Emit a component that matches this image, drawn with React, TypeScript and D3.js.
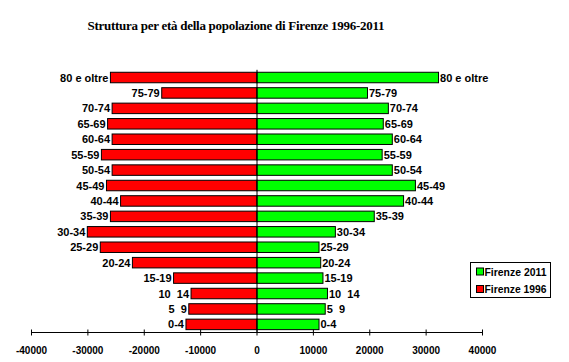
import { useEffect, useRef } from 'react';
import * as d3 from 'd3';

const ageGroups = ['80 e oltre', '75-79', '70-74', '65-69', '60-64', '55-59', '50-54', '45-49', '40-44', '35-39', '30-34', '25-29', '20-24', '15-19', '10  14', '5  9', '0-4'];
const pop1996 = [26000, 16900, 25700, 26500, 25700, 27600, 25700, 26700, 24200, 26000, 30100, 27800, 22100, 14800, 11700, 12100, 12600];
const pop2011 = [32200, 19600, 23300, 22400, 24000, 22200, 24000, 28100, 26000, 20800, 13900, 11000, 11300, 11700, 12500, 12100, 11000];
const xTicks = [-40000, -30000, -20000, -10000, 0, 10000, 20000, 30000, 40000];
const legendItems = [
  { label: 'Firenze 2011', color: '#00ff00' },
  { label: 'Firenze 1996', color: '#ff0000' },
];

export default function App() {
  const ref = useRef<SVGSVGElement>(null);

  useEffect(() => {
    if (!ref.current) return;
    const svg = d3.select(ref.current);
    svg.selectAll('*').remove();

    const font = '"Liberation Sans", Arial, sans-serif';

    const x = d3.scaleLinear().domain([-40000, 40000]).range([31.5, 482.5]);
    const y = d3.scaleBand<string>()
      .domain(ageGroups)
      .range([69.8, 332.1])
      .paddingInner(0.32)
      .paddingOuter(0.16);

    // Title
    svg.append('text')
      .attr('x', 236)
      .attr('y', 30)
      .attr('text-anchor', 'middle')
      .attr('font-family', '"Liberation Serif", "Times New Roman", serif')
      .attr('font-weight', 'bold')
      .attr('font-size', 13)
      .attr('textLength', 297)
      .text('Struttura per età della popolazione di Firenze 1996-2011');

    const g = svg.append('g');

    // 1996 bars (left, red)
    g.selectAll('rect.m')
      .data(ageGroups)
      .join('rect')
      .attr('class', 'm')
      .attr('x', (_, i) => x(-pop1996[i]))
      .attr('y', d => y(d)!)
      .attr('width', (_, i) => x(0) - x(-pop1996[i]))
      .attr('height', y.bandwidth())
      .attr('fill', '#ff0000')
      .attr('stroke', '#000')
      .attr('stroke-width', 1);

    // 2011 bars (right, green)
    g.selectAll('rect.f')
      .data(ageGroups)
      .join('rect')
      .attr('class', 'f')
      .attr('x', x(0))
      .attr('y', d => y(d)!)
      .attr('width', (_, i) => x(pop2011[i]) - x(0))
      .attr('height', y.bandwidth())
      .attr('fill', '#00ff00')
      .attr('stroke', '#000')
      .attr('stroke-width', 1);

    // labels
    const labelStyle = (sel: any) => sel
      .attr('font-family', font)
      .attr('font-weight', 'bold')
      .attr('font-size', 11)
      .attr('dominant-baseline', 'central')
      .style('white-space', 'pre');

    g.selectAll('text.ll')
      .data(ageGroups)
      .join('text')
      .attr('class', 'll')
      .attr('x', (_, i) => x(-pop1996[i]) - 2)
      .attr('y', d => y(d)! + y.bandwidth() / 2)
      .attr('text-anchor', 'end')
      .call(labelStyle)
      .text(d => d);

    g.selectAll('text.rl')
      .data(ageGroups)
      .join('text')
      .attr('class', 'rl')
      .attr('x', (_, i) => x(pop2011[i]) + 1.5)
      .attr('y', d => y(d)! + y.bandwidth() / 2)
      .call(labelStyle)
      .text(d => d);

    // zero line
    g.append('line')
      .attr('x1', x(0)).attr('x2', x(0))
      .attr('y1', y.range()[0]).attr('y2', y.range()[1])
      .attr('stroke', '#000');

    // x axis
    const axisY = 332.5;
    g.append('line')
      .attr('x1', x(-40000)).attr('x2', x(40000))
      .attr('y1', axisY).attr('y2', axisY)
      .attr('stroke', '#000');
    g.selectAll('line.tick')
      .data(xTicks)
      .join('line')
      .attr('class', 'tick')
      .attr('x1', d => x(d)).attr('x2', d => x(d))
      .attr('y1', axisY - 3).attr('y2', axisY + 3)
      .attr('stroke', '#000');
    g.selectAll('text.tl')
      .data(xTicks)
      .join('text')
      .attr('class', 'tl')
      .attr('x', d => x(d))
      .attr('y', 354)
      .attr('text-anchor', 'middle')
      .attr('font-family', font)
      .attr('font-weight', 'bold')
      .attr('font-size', 10)
      .text(d => String(d));

    // legend
    const lg = svg.append('g').attr('transform', 'translate(470.5,262.5)');
    lg.append('rect')
      .attr('width', 80).attr('height', 35)
      .attr('fill', '#fff').attr('stroke', '#000');
    lg.selectAll('g.item')
      .data(legendItems)
      .join('g')
      .attr('class', 'item')
      .attr('transform', (_, i) => `translate(6,${9 + i * 17.5})`)
      .each(function (d) {
        const it = d3.select(this);
        it.append('rect')
          .attr('x', 0).attr('y', -3.5)
          .attr('width', 7).attr('height', 7)
          .attr('fill', d.color).attr('stroke', '#000');
        it.append('text')
          .attr('x', 8).attr('y', 0)
          .attr('dominant-baseline', 'central')
          .attr('font-family', font)
          .attr('font-weight', 'bold')
          .attr('font-size', 11)
          .attr('textLength', 62)
          .attr('lengthAdjust', 'spacingAndGlyphs')
          .text(d.label);
      });
  }, []);

  return (
    <svg
      ref={ref}
      width={569}
      height={362}
      style={{ position: 'absolute', left: 0, top: 0, background: '#fff', display: 'block' }}
    />
  );
}
